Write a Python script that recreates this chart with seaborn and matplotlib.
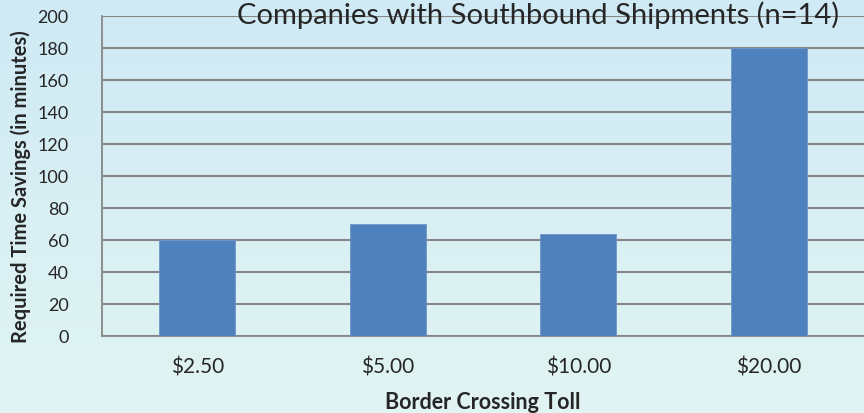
import numpy as np
import pandas as pd
import seaborn as sns
from matplotlib import pyplot as plt

tolls = ["$2.50", "$5.00", "$10.00", "$20.00"]
minutes = [60, 70, 63.5, 180]
y_ticks = [0, 20, 40, 60, 80, 100, 120, 140, 160, 180, 200]

df = pd.DataFrame({"toll": tolls, "minutes": minutes})

sns.set_style("white")
plt.rcParams['font.family'] = ['Lato', 'DejaVu Sans']

fig = plt.figure(figsize=(8.64, 4.14), dpi=100)

# light blue gradient behind everything
bg = fig.add_axes([0, 0, 1, 1], zorder=-10)
top = np.array([0.812, 0.918, 0.961])
bottom = np.array([0.882, 0.957, 0.949])
t = np.linspace(0, 1, 256)[:, None]
grad = top + (bottom - top) * t
bg.imshow(grad[:, None, :].repeat(2, axis=1), aspect="auto", extent=[0, 1, 0, 1])
bg.axis("off")

ax = fig.add_axes([0.118, 0.186, 0.882, 0.773])
ax.patch.set_alpha(0)

sns.barplot(data=df, x="toll", y="minutes", color="#4F81BD", saturation=1,
            width=0.4, edgecolor="#6f96c8", linewidth=0.6, ax=ax, zorder=3)

ax.set_ylim(0, 200)
ax.set_xlim(-0.5, 3.5)
ax.set_yticks(y_ticks)
ax.yaxis.grid(True, color="#868686", linewidth=1.5, zorder=0)
ax.set_axisbelow(True)

ax.set_xticks([-0.5, 0.5, 1.5, 2.5, 3.5])
ax.set_xticklabels([])
ax.set_xticks(range(len(tolls)), minor=True)
ax.set_xticklabels(tolls, minor=True, fontsize=15)
ax.tick_params(axis="x", which="major", length=6, color="#868686", width=1.3, direction="out")
ax.tick_params(axis="x", which="minor", length=0, pad=15)
ax.tick_params(axis="y", length=6, color="#868686", width=1.3, direction="out", labelsize=13, pad=18)

for side in ["top", "right"]:
    ax.spines[side].set_visible(False)
for side in ["left", "bottom"]:
    ax.spines[side].set_color("#868686")
    ax.spines[side].set_linewidth(1.3)

ax.set_xlabel("Border Crossing Toll", fontsize=15.5, fontweight="bold", labelpad=10)
ax.set_ylabel("Required Time Savings (in minutes)", fontsize=14.5, fontweight="bold")
ax.yaxis.set_label_coords(-0.093, 0.47)

fig.text(0.623, 0.943, "Companies with Southbound Shipments (n=14)", fontsize=21,
         ha="center", va="baseline")

fig.savefig("out.png", dpi=100)
